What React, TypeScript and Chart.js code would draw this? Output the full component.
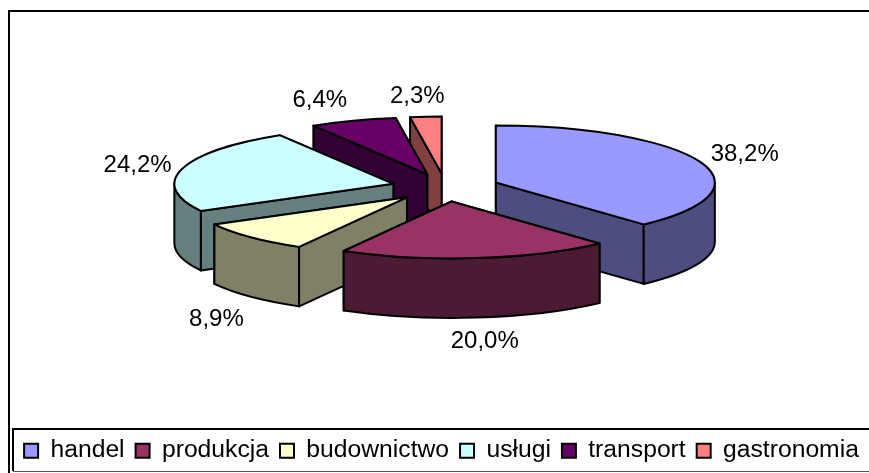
import React, { useEffect, useRef } from "react";
import { Chart, registerables } from "chart.js";

Chart.register(...registerables);

const categories = ["handel", "produkcja", "budownictwo", "usługi", "transport", "gastronomia"];
const shares = [38.2, 20.0, 8.9, 24.2, 6.4, 2.3];
const topColors = ["#9999FF", "#993366", "#FFFFCC", "#CCFFFF", "#660066", "#FF8080"];
const sideColors = ["#4D4D80", "#4D1A33", "#808066", "#668080", "#330033", "#804040"];
const labelNudgeX = [0, 3, 0, 2, -17, -5];
const labelNudgeY = [1, 2, 7, 2, 0, 2];

const SQUASH = 0.26;
const DEPTH = 59.5;
const EXPLODE = 54;
const FONT = "Liberation Sans";
const PIE_CENTER_X = 445.5;
const PIE_CENTER_Y = 187.5;

const framePlugin = {
  id: "frame",
  beforeDraw(chart: any) {
    const { ctx, width, height } = chart;
    ctx.save();
    ctx.fillStyle = "#fff";
    ctx.fillRect(0, 0, width, height);
    ctx.strokeStyle = "#000";
    ctx.lineWidth = 2;
    ctx.beginPath();
    ctx.moveTo(9, height);
    ctx.lineTo(9, 11);
    ctx.lineTo(width, 11);
    ctx.stroke();
    ctx.beginPath();
    ctx.moveTo(width, 429);
    ctx.lineTo(13, 429);
    ctx.lineTo(13, 471);
    ctx.stroke();
    ctx.strokeStyle = "#555";
    ctx.lineWidth = 1;
    ctx.beginPath();
    ctx.moveTo(13, 471.5);
    ctx.lineTo(width, 471.5);
    ctx.stroke();
    ctx.restore();
  },
};

const pie3dPlugin = {
  id: "pie3d",
  beforeDatasetsDraw(chart: any) {
    const { ctx } = chart;
    const meta = chart.getDatasetMeta(0);
    const pieces = meta.data.map((arc: any, i: number) => {
      const mid = (arc.startAngle + arc.endAngle) / 2;
      const cx = PIE_CENTER_X + EXPLODE * Math.cos(mid);
      const cy = PIE_CENTER_Y + EXPLODE * SQUASH * Math.sin(mid);
      return { arc, i, mid, cx, cy, r: arc.outerRadius, ry: arc.outerRadius * SQUASH };
    });
    const order = [...pieces].sort((a: any, b: any) => a.cy + a.ry * Math.sin(a.mid) - (b.cy + b.ry * Math.sin(b.mid)));
    ctx.save();
    ctx.strokeStyle = "#000";
    ctx.lineWidth = 2;
    ctx.lineJoin = "round";
    for (const p of order) {
      const { arc, i, cx, cy, r, ry } = p;
      const rim = (a: number) => [cx + r * Math.cos(a), cy + ry * Math.sin(a)];
      ctx.fillStyle = sideColors[i];
      const faces = [arc.startAngle, arc.endAngle].sort((a, b) => Math.sin(a) - Math.sin(b));
      for (const a of faces) {
        const [x, y] = rim(a);
        ctx.beginPath();
        ctx.moveTo(cx, cy);
        ctx.lineTo(x, y);
        ctx.lineTo(x, y + DEPTH);
        ctx.lineTo(cx, cy + DEPTH);
        ctx.closePath();
        ctx.fill();
        ctx.stroke();
      }
      const a0 = Math.max(arc.startAngle, 0);
      const a1 = Math.min(arc.endAngle, Math.PI);
      if (a1 > a0) {
        ctx.beginPath();
        ctx.ellipse(cx, cy, r, ry, 0, a0, a1);
        ctx.ellipse(cx, cy + DEPTH, r, ry, 0, a1, a0, true);
        ctx.closePath();
        ctx.fill();
        ctx.stroke();
      }
      ctx.fillStyle = topColors[i];
      ctx.beginPath();
      ctx.moveTo(cx, cy);
      ctx.ellipse(cx, cy, r, ry, 0, arc.startAngle, arc.endAngle);
      ctx.closePath();
      ctx.fill();
      ctx.stroke();
    }
    ctx.fillStyle = "#000";
    ctx.font = `24px "${FONT}"`;
    ctx.textAlign = "center";
    ctx.textBaseline = "middle";
    for (const p of pieces) {
      const { mid, cx, cy, r, ry, i } = p;
      const front = Math.sin(mid) > 0 ? DEPTH : 0;
      const x = cx + r * Math.cos(mid) + 48 * Math.cos(mid) + labelNudgeX[i];
      const y = cy + ry * Math.sin(mid) + front + 22 * Math.sin(mid) + labelNudgeY[i];
      ctx.fillText(shares[i].toFixed(1).replace(".", ",") + "%", x, y);
    }
    ctx.restore();
    return false;
  },
};

export default function App() {
  const ref = useRef<HTMLCanvasElement>(null);
  useEffect(() => {
    const chart = new Chart(ref.current as HTMLCanvasElement, {
      type: "pie",
      data: {
        labels: categories,
        datasets: [
          { data: shares, backgroundColor: topColors, borderColor: "#000", borderWidth: 2 },
        ],
      },
      options: {
        responsive: false,
        animation: false,
        radius: 219,
        layout: { padding: { left: 12, top: 0, right: -2, bottom: 0 } },
        plugins: {
          tooltip: { enabled: false },
          legend: {
            position: "bottom",
            labels: {
              boxWidth: 14,
              boxHeight: 14,
              padding: 11,
              color: "#000",
              font: { family: FONT, size: 24.7 },
            },
          },
        },
      } as any,
      plugins: [framePlugin, pie3dPlugin],
    });
    return () => chart.destroy();
  }, []);
  return (
    <div style={{ position: "absolute", left: 0, top: 0, width: 869, height: 473 }}>
      <canvas ref={ref} width={869} height={473} style={{ display: "block" }} />
    </div>
  );
}
